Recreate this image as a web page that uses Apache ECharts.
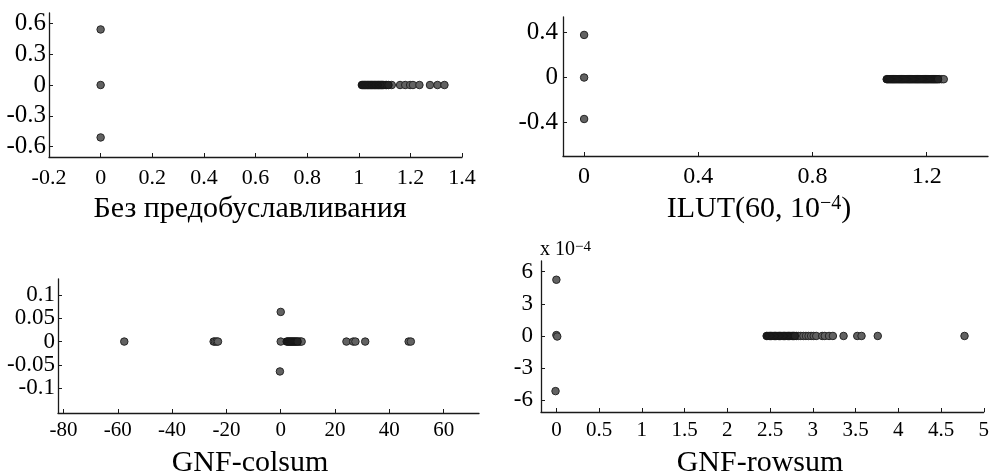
<!DOCTYPE html>
<html>
<head>
<meta charset="utf-8">
<script src="https://cdn.jsdelivr.net/npm/echarts@6/dist/echarts.min.js"></script>
<style>
  html, body { margin: 0; padding: 0; background: #fff; }
  #chart { width: 992px; height: 473px; }
</style>
</head>
<body>
<div id="chart"></div>
<script>
// panel titles
var titles = ['Без предобуславливания', 'ILUT(60, 10{s|−4})', 'GNF-colsum', 'GNF-rowsum'];

// tick values of each panel
var p1XTicks = [-0.2, 0, 0.2, 0.4, 0.6, 0.8, 1, 1.2, 1.4];
var p1YTicks = [-0.6, -0.3, 0, 0.3, 0.6];
var p2XTicks = [0, 0.4, 0.8, 1.2];
var p2YTicks = [-0.4, 0, 0.4];
var p3XTicks = [-80, -60, -40, -20, 0, 20, 40, 60];
var p3YTicks = [-0.1, -0.05, 0, 0.05, 0.1];
var p4XTicks = [0, 0.5, 1, 1.5, 2, 2.5, 3, 3.5, 4, 4.5, 5];
var p4YTicks = [-6, -3, 0, 3, 6];   // x 10^-4

// eigenvalues [re, im]
// *Points = separate dots, *Cluster = the tightly packed ones that merge into a dark bar
var p1Points = [
  [0, 0.54], [0, 0], [0, -0.51],
  [1.128, 0], [1.16, 0], [1.18, 0], [1.199, 0], [1.21, 0], [1.235, 0],
  [1.276, 0], [1.305, 0], [1.332, 0]
];
var p1Cluster = [
  [1.012, 0], [1.015, 0], [1.018, 0], [1.021, 0], [1.024, 0], [1.027, 0], [1.030, 0],
  [1.033, 0], [1.036, 0], [1.039, 0], [1.042, 0], [1.045, 0], [1.048, 0], [1.051, 0],
  [1.054, 0], [1.057, 0], [1.060, 0], [1.063, 0], [1.066, 0], [1.069, 0], [1.072, 0],
  [1.075, 0], [1.078, 0], [1.081, 0], [1.084, 0], [1.087, 0], [1.090, 0], [1.093, 0],
  [1.097, 0], [1.102, 0], [1.108, 0], [1.115, 0]
];
var p2Points = [
  [0, 0.38], [0, 0], [0, -0.37], [1.245, -0.015], [1.253, -0.015], [1.260, -0.015]
];
var p2Cluster = [
  [1.060, -0.015], [1.064, -0.015], [1.068, -0.015], [1.072, -0.015], [1.076, -0.015],
  [1.080, -0.015], [1.084, -0.015], [1.088, -0.015], [1.092, -0.015], [1.096, -0.015],
  [1.100, -0.015], [1.104, -0.015], [1.108, -0.015], [1.112, -0.015], [1.116, -0.015],
  [1.120, -0.015], [1.124, -0.015], [1.128, -0.015], [1.132, -0.015], [1.136, -0.015],
  [1.140, -0.015], [1.144, -0.015], [1.148, -0.015], [1.152, -0.015], [1.156, -0.015],
  [1.160, -0.015], [1.164, -0.015], [1.168, -0.015], [1.172, -0.015], [1.176, -0.015],
  [1.180, -0.015], [1.184, -0.015], [1.188, -0.015], [1.192, -0.015], [1.196, -0.015],
  [1.200, -0.015], [1.204, -0.015], [1.208, -0.015], [1.212, -0.015], [1.216, -0.015],
  [1.220, -0.015], [1.224, -0.015], [1.228, -0.015], [1.232, -0.015], [1.236, -0.015],
  [1.240, -0.015]
];
var p3Points = [
  [-57.6, 0], [-24.7, 0], [-24.2, 0], [-23.6, 0], [-23.1, 0],
  [0, 0.0635], [-0.3, -0.064], [0, 0],
  [6.7, 0], [7.2, 0], [7.7, 0],
  [24.2, 0], [26.7, 0], [27.5, 0], [31.1, 0], [47.1, 0], [47.9, 0]
];
var p3Cluster = [
  [2.2, 0], [2.6, 0], [3.0, 0], [3.4, 0], [3.8, 0], [4.2, 0], [4.6, 0], [5.0, 0],
  [5.4, 0], [5.8, 0], [6.2, 0]
];
var p4Points = [   // imaginary part in units of 10^-4
  [0, 5.25], [0, 0.08], [0.01, -0.05], [-0.01, -5.15],
  [2.81, 0], [2.83, 0], [2.86, 0], [2.89, 0],
  [2.92, 0], [2.95, 0], [2.98, 0], [3.01, 0], [3.04, 0], [3.11, 0], [3.14, 0],
  [3.19, 0], [3.235, 0], [3.36, 0], [3.52, 0], [3.57, 0], [3.76, 0], [4.775, 0]
];
var p4Cluster = [
  [2.46, 0], [2.475, 0], [2.49, 0], [2.505, 0], [2.52, 0], [2.535, 0], [2.55, 0],
  [2.565, 0], [2.58, 0], [2.595, 0], [2.61, 0], [2.625, 0], [2.64, 0], [2.655, 0],
  [2.67, 0], [2.685, 0], [2.70, 0], [2.715, 0], [2.73, 0], [2.745, 0], [2.76, 0],
  [2.775, 0], [2.79, 0]
];

var FONT = 'Liberation Serif';
var INK = '#1a1a1a';

function makeAxis(gridIndex, min, max, ticks, fontSize, margin) {
  return {
    type: 'value',
    gridIndex: gridIndex,
    min: min,
    max: max,
    splitLine: { show: false },
    axisLine: { onZero: false, lineStyle: { color: INK, width: 1.3 } },
    axisTick: { inside: true, length: 4, customValues: ticks, lineStyle: { color: INK, width: 1 } },
    axisLabel: {
      customValues: ticks,
      color: '#000',
      fontFamily: FONT,
      fontSize: fontSize,
      margin: margin
    }
  };
}

function makeSeries(idx, points, dark) {
  return {
    type: 'scatter',
    xAxisIndex: idx,
    yAxisIndex: idx,
    data: points,
    symbolSize: 7.5,
    itemStyle: dark
      ? { color: '#242424', borderColor: '#161616', borderWidth: 1, opacity: 1 }
      : { color: '#626262', borderColor: '#262626', borderWidth: 1, opacity: 1 }
  };
}

function makeTitle(text, x, top) {
  return {
    text: text,
    left: x,
    top: top,
    textAlign: 'center',
    textStyle: {
      fontFamily: FONT,
      fontSize: 30,
      fontWeight: 'normal',
      color: '#000',
      rich: { s: { fontFamily: FONT, fontSize: 20, verticalAlign: 'top', lineHeight: 14, color: '#000' } }
    }
  };
}

var chart = echarts.init(document.getElementById('chart'), null, { renderer: 'canvas' });
chart.setOption({
  animation: false,
  backgroundColor: '#fff',
  title: [
    makeTitle(titles[0], 245, 189),
    makeTitle(titles[1], 754, 189),
    makeTitle(titles[2], 245, 443),
    makeTitle(titles[3], 755, 443),
    {
      text: 'x 10{s|−4}',
      left: 535,
      top: 235,
      textStyle: {
        fontFamily: FONT, fontSize: 20, fontWeight: 'normal', color: '#000',
        rich: { s: { fontFamily: FONT, fontSize: 15, verticalAlign: 'top', lineHeight: 2, color: '#000' } }
      }
    }
  ],
  grid: [
    { left: 49, top: 13, width: 413, height: 144 },
    { left: 563, top: 17, width: 425, height: 139 },
    { left: 58, top: 279, width: 421, height: 134 },
    { left: 541, top: 261, width: 444, height: 151 }
  ],
  xAxis: [
    makeAxis(0, -0.2, 1.4, p1XTicks, 22, 10),
    makeAxis(1, -0.074, 1.415, p2XTicks, 24, 9),
    makeAxis(2, -82, 73, p3XTicks, 21, 7),
    makeAxis(3, -0.18, 5, p4XTicks, 21, 8)
  ],
  yAxis: [
    makeAxis(0, -0.7, 0.7, p1YTicks, 25, 3),
    makeAxis(1, -0.7, 0.54, p2YTicks, 25, 5),
    makeAxis(2, -0.153, 0.134, p3YTicks, 23, 3),
    makeAxis(3, -7.1, 7.0, p4YTicks, 23, 8)
  ],
  series: [
    makeSeries(0, p1Points, false),
    makeSeries(0, p1Cluster, true),
    makeSeries(1, p2Points, false),
    makeSeries(1, p2Cluster, true),
    makeSeries(2, p3Points, false),
    makeSeries(2, p3Cluster, true),
    makeSeries(3, p4Points, false),
    makeSeries(3, p4Cluster, true)
  ]
});
</script>
</body>
</html>
